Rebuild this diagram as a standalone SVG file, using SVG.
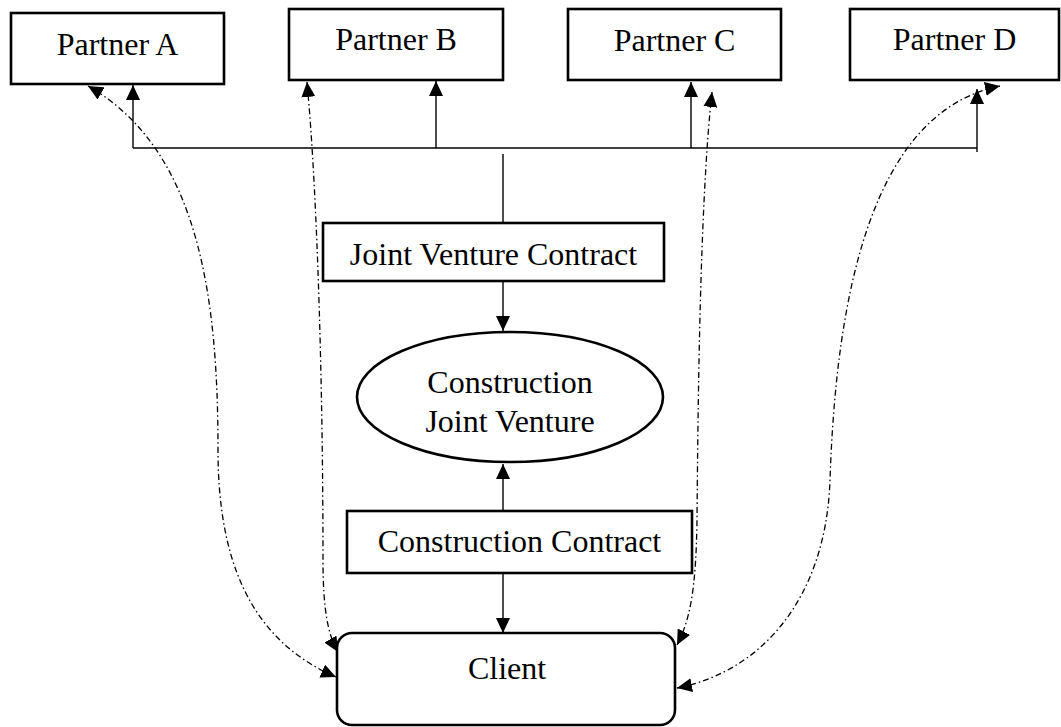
<svg xmlns="http://www.w3.org/2000/svg" width="1061" height="727" viewBox="0 0 1061 727">
  <style>
    .box { fill: #fff; stroke: #000; stroke-width: 2.6; }
    .lbl { font-family: "Liberation Serif", "Times New Roman", serif; font-size: 32px; fill: #000; text-anchor: middle; }
    .solid { fill: none; stroke: #000; stroke-width: 1.4; }
    .link { fill: none; stroke: #000; stroke-width: 1.3; stroke-dasharray: 6 3 1.5 3; }
  </style>
  <defs>
    <marker id="head" viewBox="0 0 15 14" markerWidth="15" markerHeight="14" refX="15" refY="7" orient="auto-start-reverse" markerUnits="userSpaceOnUse">
      <path d="M0,0 L15,7 L0,14 z" fill="#000"/>
    </marker>
  </defs>
  <rect width="1061" height="727" fill="#fff"/>

  <!-- connectors -->
  <g id="connectors">
    <!-- bus from the joint venture contract out to the partners -->
    <path class="solid" d="M133,148 H977"/>
    <path class="solid" d="M503,154 V223"/>
    <path class="solid" d="M133,148 V85" marker-end="url(#head)"/>
    <path class="solid" d="M436,148 V81" marker-end="url(#head)"/>
    <path class="solid" d="M691,148 V82" marker-end="url(#head)"/>
    <path class="solid" d="M977,152 V89" marker-end="url(#head)"/>
    <!-- contracts into the joint venture and the client -->
    <path class="solid" d="M503,281 V331" marker-end="url(#head)"/>
    <path class="solid" d="M503,511 V464" marker-end="url(#head)"/>
    <path class="solid" d="M503,573 V633" marker-end="url(#head)"/>
    <!-- dash-dot links between the client and each partner -->
    <path class="link" d="M336,677 C250,640 218,560 218,450 C218,300 200,150 88,86" marker-start="url(#head)" marker-end="url(#head)"/>
    <path class="link" d="M338,652 C328,635 323,610 323,560 C323,400 318,200 307,82" marker-start="url(#head)" marker-end="url(#head)"/>
    <path class="link" d="M677,645 C690,620 696,590 697,520 C698,400 700,200 712,92" marker-start="url(#head)" marker-end="url(#head)"/>
    <path class="link" d="M677,688 C760,672 826,600 830,480 C836,300 870,112 1000,86" marker-start="url(#head)" marker-end="url(#head)"/>
  </g>

  <g id="partner-a">
    <rect class="box" x="11" y="13" width="213" height="71"/>
    <text class="lbl" x="117.5" y="55">Partner A</text>
  </g>
  <g id="partner-b">
    <rect class="box" x="289" y="9" width="214" height="71"/>
    <text class="lbl" x="396" y="50">Partner B</text>
  </g>
  <g id="partner-c">
    <rect class="box" x="568" y="9" width="213" height="71"/>
    <text class="lbl" x="674.5" y="51">Partner C</text>
  </g>
  <g id="partner-d">
    <rect class="box" x="850" y="9" width="209" height="71"/>
    <text class="lbl" x="954.5" y="50">Partner D</text>
  </g>

  <g id="jv-contract">
    <rect class="box" x="323" y="223" width="341" height="58"/>
    <text class="lbl" x="493.5" y="265">Joint Venture Contract</text>
  </g>

  <g id="joint-venture">
    <ellipse class="box" cx="510" cy="397" rx="153" ry="65"/>
    <text class="lbl" x="510" y="393">Construction</text>
    <text class="lbl" x="510" y="432">Joint Venture</text>
  </g>

  <g id="construction-contract">
    <rect class="box" x="347" y="511" width="345" height="62"/>
    <text class="lbl" x="519.5" y="552">Construction Contract</text>
  </g>

  <g id="client">
    <rect class="box" x="337" y="633" width="338" height="92" rx="15" ry="15"/>
    <text class="lbl" x="507" y="679">Client</text>
  </g>
</svg>
